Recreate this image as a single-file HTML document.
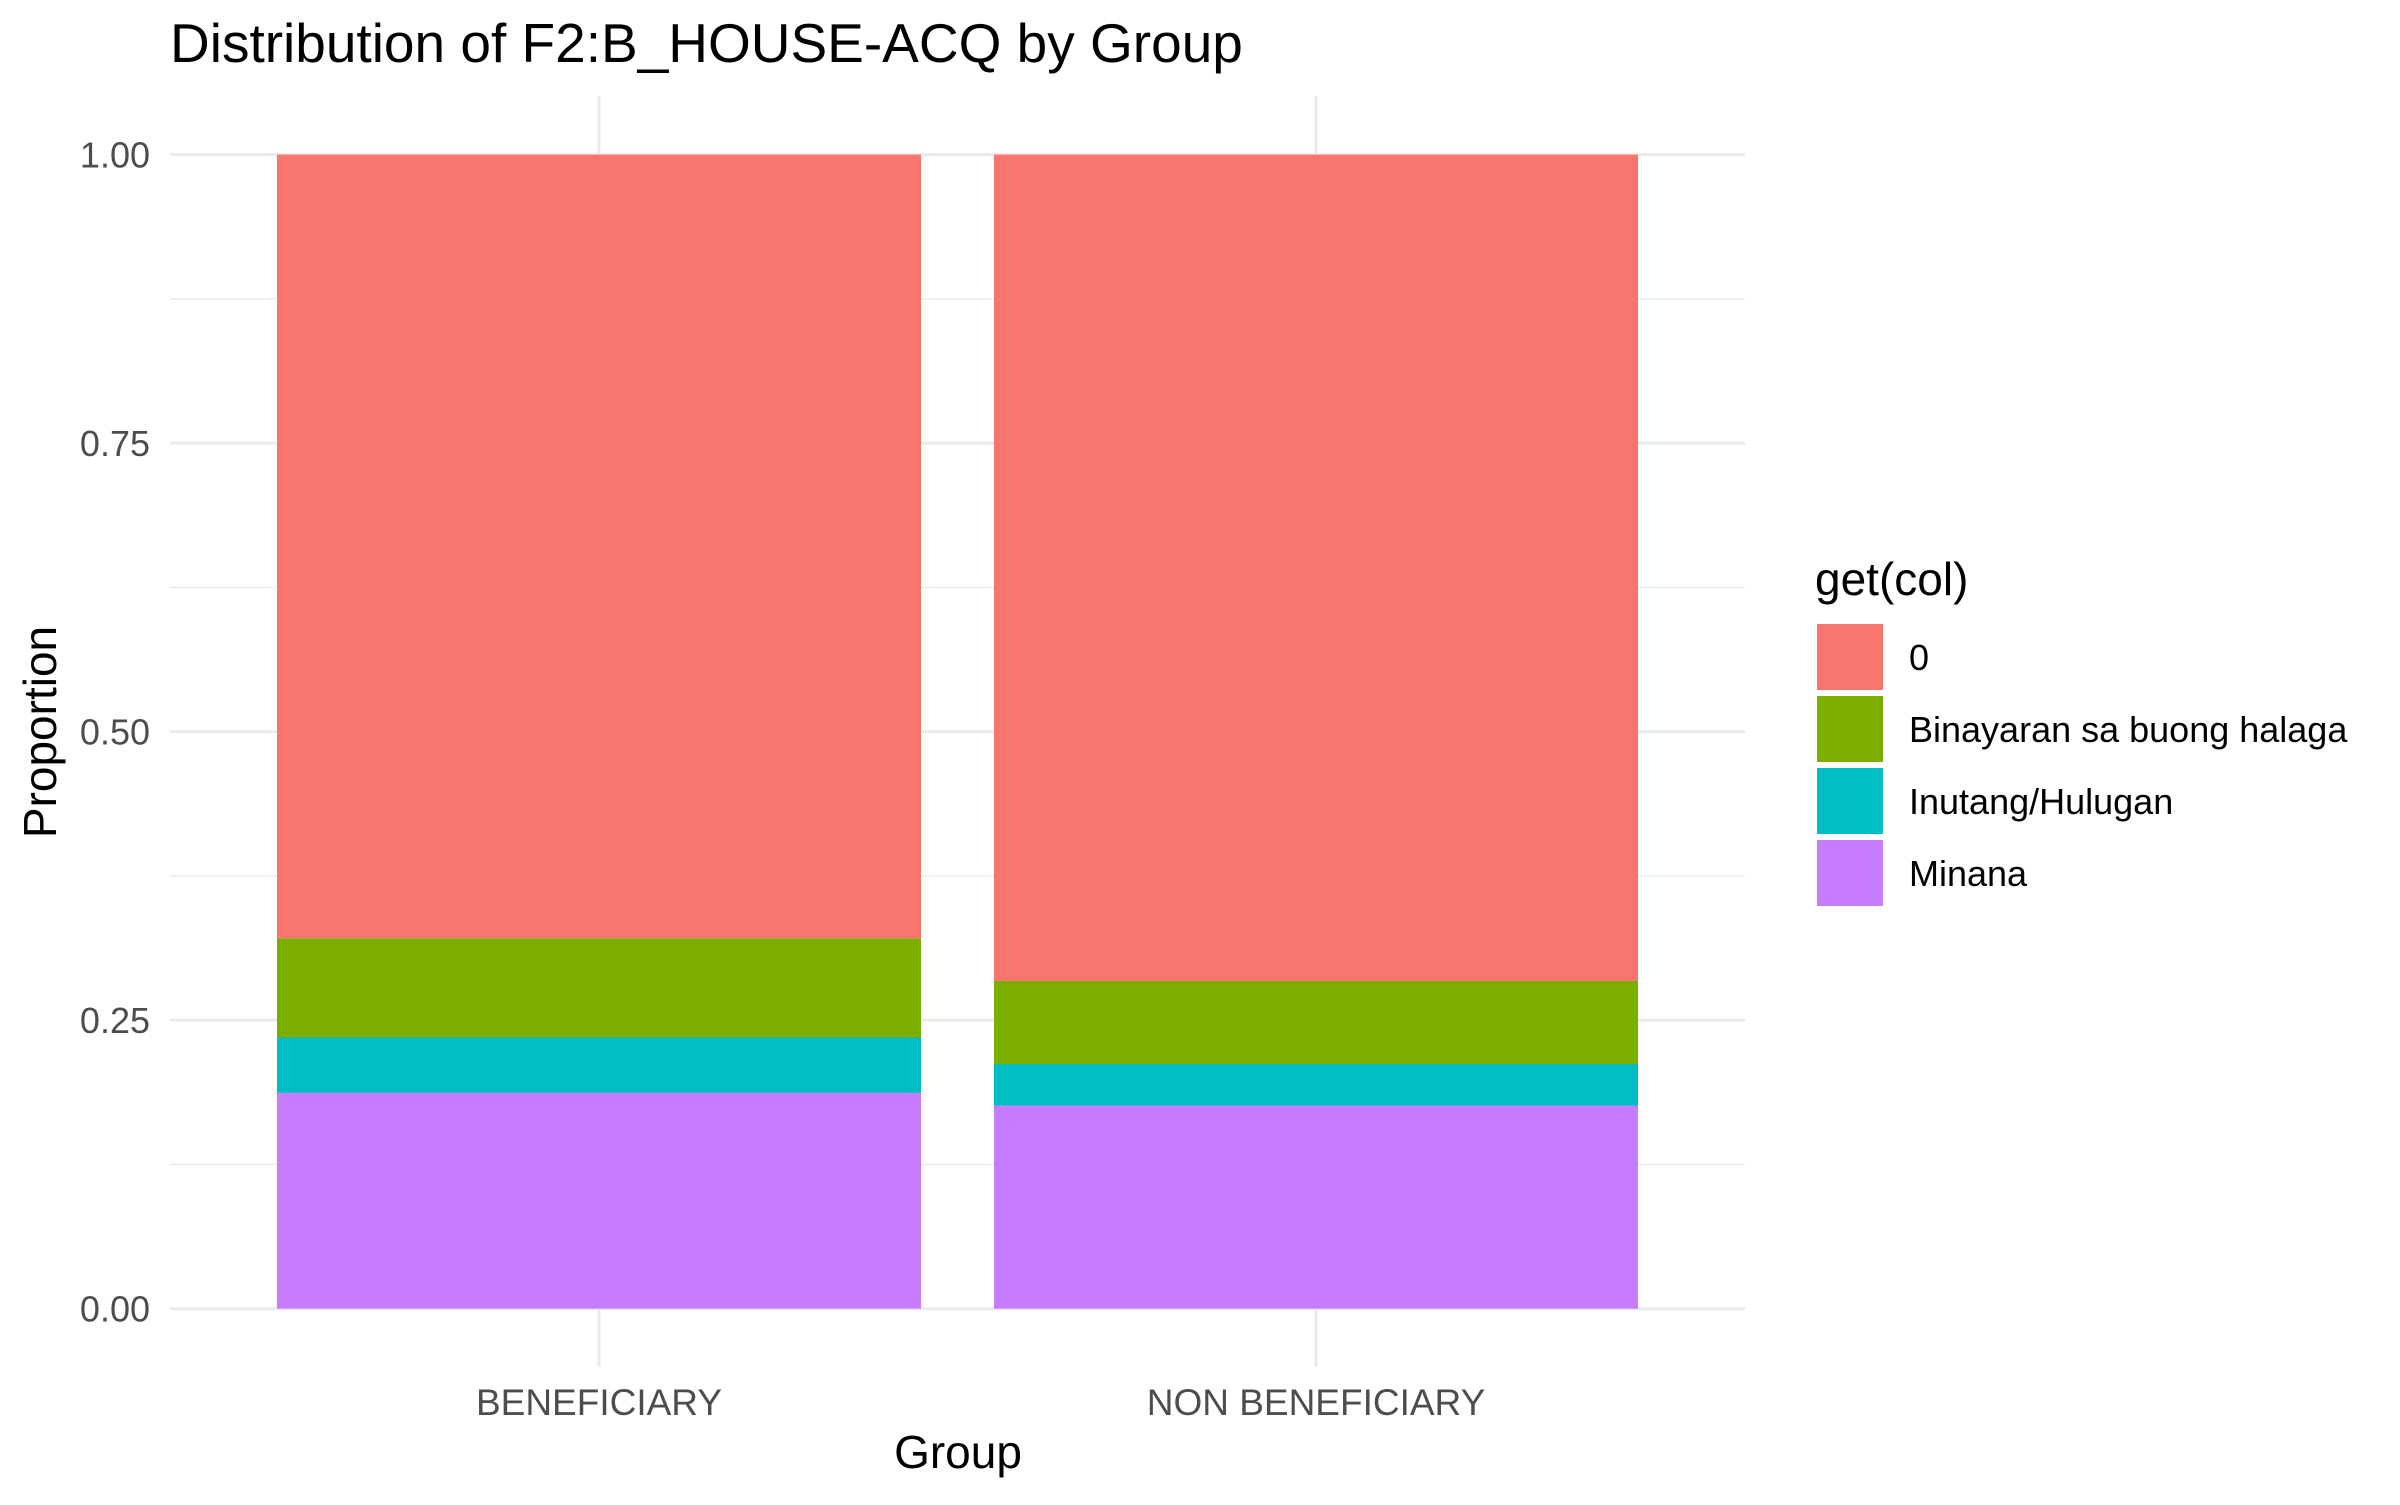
<!DOCTYPE html>
<html><head><meta charset="utf-8"><style>
body{margin:0;background:#fff;}
svg text{font-family:"Liberation Sans",Arial,sans-serif;}
</style></head><body>
<svg width="2400" height="1500" viewBox="0 0 2400 1500">
<rect width="2400" height="1500" fill="#fff"/>
<text x="170" y="62" font-size="55" fill="#000">Distribution of F2:B_HOUSE-ACQ by Group</text>
<g id="grid"></g>
<g id="bars"></g>
<g id="yticks"></g>
<g id="xticks"></g>
<text x="0" y="0" font-size="46" transform="translate(56,732) rotate(-90)" text-anchor="middle">Proportion</text>
<text x="958" y="1468" font-size="46" text-anchor="middle">Group</text>
<g id="legend">
<text x="1815" y="595" font-size="46">get(col)</text>
</g>
</svg>
<script>
const categories = ["BENEFICIARY", "NON BENEFICIARY"];
const seriesNames = ["0", "Binayaran sa buong halaga", "Inutang/Hulugan", "Minana"];
const seriesColors = ["#F8766D", "#7CAE00", "#00BFC4", "#C77CFF"];
const minana = [0.187, 0.176];
const inutang = [0.048, 0.036];
const binayaran = [0.086, 0.072];
const zero = [0.679, 0.716];
const yTicks = [0, 0.25, 0.5, 0.75, 1.0];
const yTickLabels = ["0.00", "0.25", "0.50", "0.75", "1.00"];

const NS = "http://www.w3.org/2000/svg";
const y0px = 1308.7, y1px = 154.6;
const yScale = v => y0px + (y1px - y0px) * v;
const firstCenter = 599, bandStep = 717;
const xCenter = i => firstCenter + bandStep * i;
const barW = 644;
function mk(tag, attrs, parent) { const e = document.createElementNS(NS, tag); for (const k in attrs) e.setAttribute(k, attrs[k]); parent.appendChild(e); return e; }

const grid = document.getElementById("grid");
for (let i = 0; i < yTicks.length; i++) {
  const l = mk("line", {x1: 170, x2: 1745, y1: yScale(yTicks[i]), y2: yScale(yTicks[i]), stroke: "#EBEBEB", "stroke-width": 3}, grid);
  
  
  if (i < yTicks.length - 1) {
    const m = (yTicks[i] + yTicks[i + 1]) / 2;
    const l2 = mk("line", {x1: 170, x2: 1745, y1: yScale(m), y2: yScale(m), stroke: "#EBEBEB", "stroke-width": 1.5}, grid);
    
    
  }
}
categories.forEach((c, i) => {
  const l = mk("line", {x1: xCenter(i), x2: xCenter(i), y1: 96, y2: 1367, stroke: "#EBEBEB", "stroke-width": 3}, grid);
  
  
});

const bars = document.getElementById("bars");
const stack = [minana, inutang, binayaran, zero];
const stackColors = [seriesColors[3], seriesColors[2], seriesColors[1], seriesColors[0]];
const stackNames = ["minana", "inutang", "binayaran", "zero"];
categories.forEach((c, i) => {
  let cum = 0;
  stack.forEach((s, k) => {
    const top = cum + s[i];
    const r = mk("rect", {x: xCenter(i) - barW / 2, y: yScale(top), width: barW, height: yScale(cum) - yScale(top), fill: stackColors[k]}, bars);
    
    
    cum = top;
  });
});

const yt = document.getElementById("yticks");
yTicks.forEach((v, i) => {
  const t = mk("text", {x: 150, y: yScale(v) + 13, "font-size": 36, fill: "#4D4D4D", "text-anchor": "end"}, yt);
  t.textContent = yTickLabels[i];
  
  
});
const xt = document.getElementById("xticks");
categories.forEach((c, i) => {
  const t = mk("text", {x: xCenter(i), y: 1415, "font-size": 37, fill: "#4D4D4D", "text-anchor": "middle"}, xt);
  t.textContent = c;
  
  
});

const lg = document.getElementById("legend");
seriesNames.forEach((n, i) => {
  const y = 624 + i * 72;
  const r = mk("rect", {x: 1817, y: y, width: 66, height: 66, fill: seriesColors[i]}, lg);
  
  
  const t = mk("text", {x: 1909, y: y + 46, "font-size": 36, fill: "#000"}, lg);
  t.textContent = n;
  
  
});
</script>
</body></html>
